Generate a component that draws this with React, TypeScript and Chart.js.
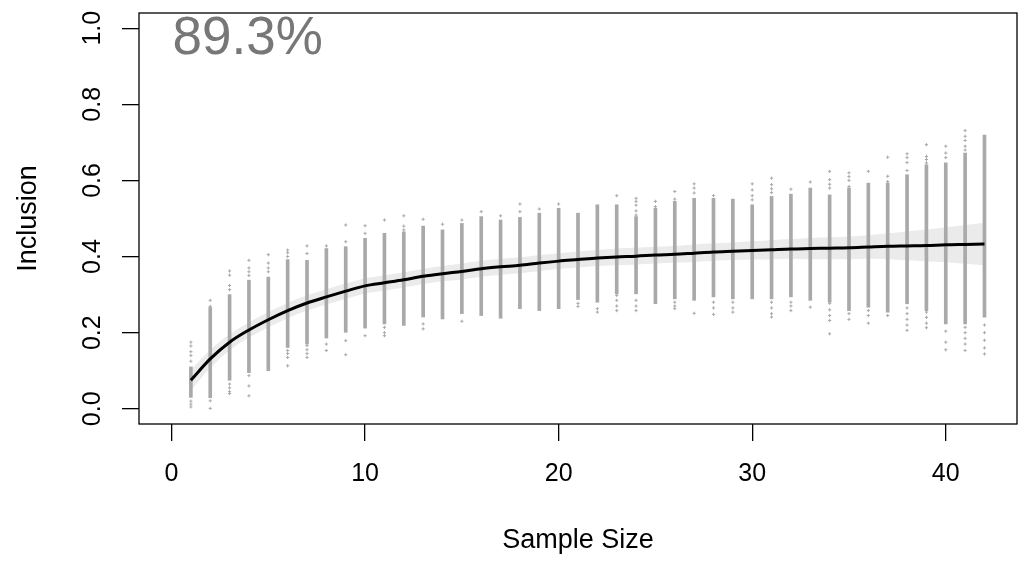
import React, { useEffect, useRef } from "react";
import { Chart, registerables } from "chart.js";

Chart.register(...registerables);

const sampleSizes = [
  1, 2, 3, 4, 5, 6, 7, 8, 9, 10, 11, 12, 13, 14, 15, 16, 17, 18, 19, 20, 21,
  22, 23, 24, 25, 26, 27, 28, 29, 30, 31, 32, 33, 34, 35, 36, 37, 38, 39, 40,
  41, 42,
];

const meanInclusion = [
  0.075, 0.131, 0.175, 0.207, 0.234, 0.258, 0.278, 0.294, 0.309, 0.323, 0.331,
  0.339, 0.348, 0.355, 0.361, 0.368, 0.373, 0.377, 0.383, 0.388, 0.392, 0.396,
  0.399, 0.401, 0.404, 0.406, 0.409, 0.412, 0.414, 0.416, 0.418, 0.42, 0.421,
  0.422, 0.423, 0.425, 0.427, 0.428, 0.429, 0.431, 0.432, 0.433,
];

const bandLower = [
  0.048, 0.107, 0.154, 0.187, 0.214, 0.238, 0.258, 0.274, 0.289, 0.303, 0.311,
  0.319, 0.328, 0.335, 0.34, 0.347, 0.352, 0.356, 0.362, 0.367, 0.371, 0.375,
  0.377, 0.379, 0.382, 0.384, 0.386, 0.389, 0.391, 0.392, 0.393, 0.394, 0.393,
  0.393, 0.393, 0.394, 0.393, 0.39, 0.387, 0.385, 0.381, 0.377,
];

const bandUpper = [
  0.102, 0.155, 0.196, 0.227, 0.254, 0.278, 0.298, 0.314, 0.329, 0.343, 0.351,
  0.359, 0.368, 0.375, 0.382, 0.389, 0.394, 0.398, 0.404, 0.409, 0.413, 0.417,
  0.421, 0.423, 0.426, 0.428, 0.432, 0.435, 0.437, 0.44, 0.443, 0.446, 0.449,
  0.451, 0.453, 0.456, 0.461, 0.466, 0.471, 0.477, 0.483, 0.489,
];

// dense part of each column of simulated inclusion values
const stripLow = [
  0.03, 0.029, 0.075, 0.095, 0.1, 0.161, 0.17, 0.186, 0.201, 0.212, 0.223,
  0.219, 0.241, 0.236, 0.25, 0.245, 0.238, 0.263, 0.258, 0.263, 0.287, 0.28,
  0.302, 0.302, 0.276, 0.289, 0.285, 0.294, 0.289, 0.289, 0.289, 0.294, 0.285,
  0.28, 0.258, 0.267, 0.254, 0.276, 0.258, 0.223, 0.223, 0.241,
];

const stripHigh = [
  0.11, 0.266, 0.3, 0.338, 0.346, 0.392, 0.39, 0.421, 0.426, 0.448, 0.461,
  0.465, 0.48, 0.47, 0.487, 0.505, 0.496, 0.503, 0.514, 0.527, 0.514, 0.536,
  0.536, 0.505, 0.527, 0.545, 0.553, 0.553, 0.551, 0.536, 0.558, 0.564, 0.58,
  0.562, 0.58, 0.593, 0.593, 0.615, 0.641, 0.646, 0.672, 0.719,
];

// isolated values above / below the dense part of each column
const stripOutliers = [
  [0.175, 0.165, 0.15, 0.14, 0.125, 0.02, 0.012, 0.005],
  [0.285, 0.269, 0.021, 0.001],
  [0.362, 0.351, 0.324, 0.313, 0.065, 0.055, 0.045, 0.04],
  [0.39, 0.37, 0.36, 0.35, 0.087, 0.06, 0.034],
  [0.405, 0.383, 0.37, 0.36],
  [0.417, 0.41, 0.4, 0.153, 0.145, 0.135, 0.113],
  [0.428, 0.408, 0.166, 0.155, 0.145, 0.135],
  [0.428, 0.17, 0.153],
  [0.483, 0.439, 0.179, 0.142],
  [0.481, 0.461, 0.192],
  [0.496, 0.214, 0.2, 0.192],
  [0.507, 0.48, 0.47],
  [0.498, 0.223, 0.21],
  [0.485],
  [0.496, 0.23],
  [0.518],
  [0.507],
  [0.538, 0.518],
  [0.525],
  [0.538],
  [0.277, 0.269],
  [0.263, 0.254],
  [0.56, 0.298, 0.285, 0.27, 0.258],
  [0.553, 0.545, 0.535, 0.52, 0.509, 0.285, 0.27, 0.258],
  [0.545, 0.531],
  [0.571, 0.551, 0.28, 0.27, 0.263],
  [0.591, 0.58, 0.567, 0.251],
  [0.56, 0.28, 0.265, 0.248],
  [0.28, 0.265, 0.254],
  [0.591, 0.575, 0.56, 0.549],
  [0.606, 0.589, 0.578, 0.568, 0.28, 0.265, 0.25, 0.241],
  [0.577, 0.28, 0.27, 0.258],
  [0.596, 0.267],
  [0.624, 0.602, 0.59, 0.58, 0.277, 0.26, 0.245, 0.232, 0.197],
  [0.62, 0.61, 0.6, 0.584, 0.25, 0.235],
  [0.624, 0.258, 0.245, 0.225],
  [0.661, 0.611, 0.597, 0.245],
  [0.67, 0.66, 0.647, 0.626, 0.265, 0.25, 0.235, 0.22, 0.206],
  [0.694, 0.663, 0.655, 0.646, 0.254, 0.24, 0.225, 0.213],
  [0.69, 0.672, 0.66, 0.204, 0.175, 0.155],
  [0.731, 0.716, 0.705, 0.69, 0.68, 0.214, 0.2, 0.185, 0.17, 0.153],
  [0.22, 0.2, 0.18, 0.16, 0.144],
];

const xTicks = [0, 10, 20, 30, 40];
const yTicks = [0, 0.2, 0.4, 0.6, 0.8, 1.0];
const cornerLabel = "89.3%";
const xTitle = "Sample Size";
const yTitle = "Inclusion";

const FONT = "'Liberation Sans', Arial, sans-serif";
const POINT_GRAY = "#a9a9a9";

export default function App() {
  const canvasRef = useRef<HTMLCanvasElement | null>(null);

  useEffect(() => {
    const canvas = canvasRef.current;
    if (!canvas) return;

    const boxPlugin = {
      id: "rbox",
      afterDraw(chart: any) {
        const { ctx, chartArea, scales } = chart;
        ctx.save();
        ctx.strokeStyle = "#000";
        ctx.lineWidth = 1.3;
        ctx.strokeRect(
          chartArea.left,
          chartArea.top,
          chartArea.right - chartArea.left,
          chartArea.bottom - chartArea.top
        );
        ctx.fillStyle = "#777777";
        ctx.font = `53px ${FONT}`;
        ctx.textAlign = "left";
        ctx.textBaseline = "alphabetic";
        ctx.fillText(
          cornerLabel,
          scales.x.getPixelForValue(0) + 1,
          scales.y.getPixelForValue(1) + 26
        );
        ctx.restore();
      },
    };

    const outlierPoints = stripOutliers.flatMap((vals, i) =>
      vals.map((v) => ({ x: sampleSizes[i], y: v }))
    );

    const chart = new Chart(canvas, {
      type: "bar",
      data: {
        datasets: [
          {
            type: "line",
            data: sampleSizes.map((x, i) => ({ x, y: bandUpper[i] })),
            borderWidth: 0,
            borderColor: "rgba(0,0,0,0)",
            backgroundColor: "#ebebeb",
            pointRadius: 0,
            fill: "+1",
            cubicInterpolationMode: "monotone",
            order: 5,
          } as any,
          {
            type: "line",
            data: sampleSizes.map((x, i) => ({ x, y: bandLower[i] })),
            borderWidth: 0,
            borderColor: "rgba(0,0,0,0)",
            pointRadius: 0,
            fill: false,
            cubicInterpolationMode: "monotone",
            order: 4,
          } as any,
          {
            type: "bar",
            data: sampleSizes.map((x, i) => ({
              x,
              y: [stripLow[i], stripHigh[i]],
            })),
            backgroundColor: POINT_GRAY,
            borderWidth: 0,
            barThickness: 3,
            order: 3,
          } as any,
          {
            type: "scatter",
            data: outlierPoints,
            pointStyle: "cross",
            pointRadius: 1.6,
            borderWidth: 1,
            borderColor: POINT_GRAY,
            backgroundColor: POINT_GRAY,
            order: 2,
          } as any,
          {
            type: "line",
            data: sampleSizes.map((x, i) => ({ x, y: meanInclusion[i] })),
            borderColor: "#000",
            borderWidth: 3,
            pointRadius: 0,
            fill: false,
            cubicInterpolationMode: "monotone",
            order: 1,
          } as any,
        ],
      },
      options: {
        responsive: false,
        animation: false,
        layout: { padding: { top: 13, right: 11, left: 0, bottom: 0 } },
        plugins: {
          legend: { display: false },
          tooltip: { enabled: false },
        },
        scales: {
          x: {
            type: "linear",
            min: -1.68,
            max: 43.68,
            offset: false,
            afterBuildTicks: (scale: any) => {
              scale.ticks = xTicks.map((v) => ({ value: v }));
            },
            afterFit: (scale: any) => {
              scale.height = 144;
              scale.paddingLeft = 0;
              scale.paddingRight = 0;
            },
            ticks: {
              autoSkip: false,
              maxRotation: 0,
              padding: 18,
              color: "#000",
              font: { family: FONT, size: 25 },
              callback: (v: any) => String(v),
            },
            grid: {
              offset: false,
              drawOnChartArea: false,
              drawTicks: true,
              tickLength: 17,
              tickColor: "#000",
              tickWidth: 1.3,
              color: "#000",
              lineWidth: 1.3,
            },
            border: { display: false },
            title: {
              display: true,
              text: xTitle,
              color: "#000",
              font: { family: FONT, size: 27 },
              padding: { top: 0, bottom: 11 },
            },
          },
          y: {
            type: "linear",
            min: -0.04,
            max: 1.04,
            afterBuildTicks: (scale: any) => {
              scale.ticks = yTicks.map((v) => ({ value: v }));
            },
            afterFit: (scale: any) => {
              scale.width = 139;
              scale.paddingTop = 0;
              scale.paddingBottom = 0;
            },
            ticks: {
              autoSkip: false,
              minRotation: 90,
              maxRotation: 90,
              crossAlign: "center",
              padding: 12,
              color: "#000",
              font: { family: FONT, size: 25 },
              callback: (v: any) => Number(v).toFixed(1),
            },
            grid: {
              drawOnChartArea: false,
              drawTicks: true,
              tickLength: 17,
              tickColor: "#000",
              tickWidth: 1.3,
              color: "#000",
              lineWidth: 1.3,
            },
            border: { display: false },
            title: {
              display: true,
              text: yTitle,
              color: "#000",
              font: { family: FONT, size: 27 },
              padding: { top: 12, bottom: 0 },
            },
          },
        },
      } as any,
      plugins: [boxPlugin],
    });

    return () => chart.destroy();
  }, []);

  return (
    <div
      style={{
        position: "absolute",
        left: 0,
        top: 0,
        width: 1028,
        height: 568,
        background: "#fff",
      }}
    >
      <canvas
        ref={canvasRef}
        width={1028}
        height={568}
        style={{ display: "block", width: 1028, height: 568 }}
      />
    </div>
  );
}
